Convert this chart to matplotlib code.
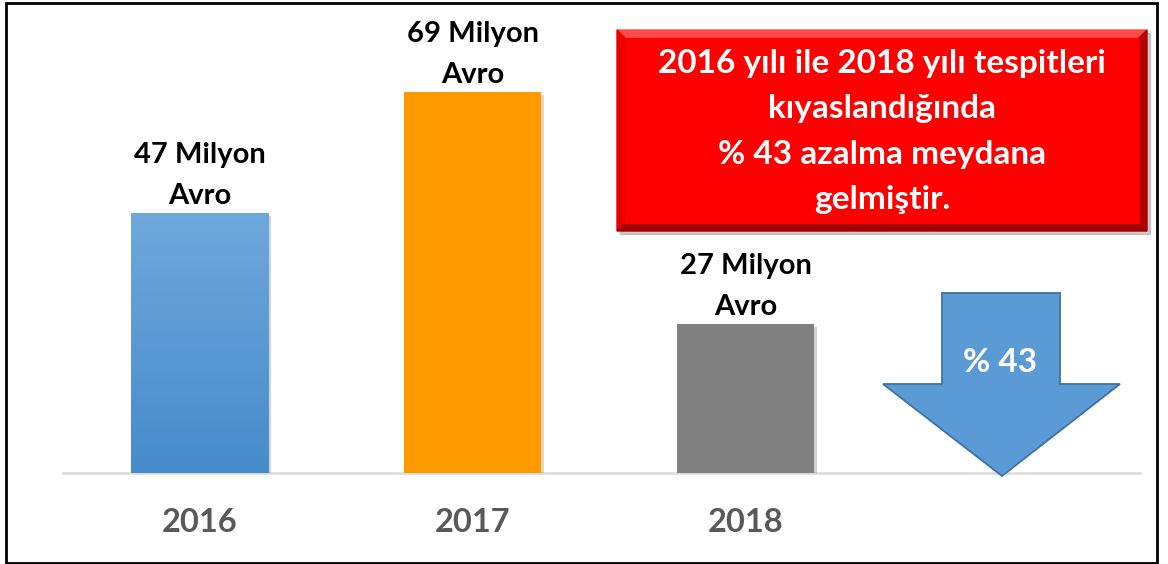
import matplotlib.pyplot as plt
import matplotlib.patheffects as pe
from matplotlib.patches import Rectangle, Polygon
from matplotlib.colors import LinearSegmentedColormap
import numpy as np

# data
years = ['2016', '2017', '2018']
values = [47, 69, 27]
bar_colors = ['#5B9BD5', '#FF9900', '#808080']
unit = 'Milyon\nAvro'
box_text = '2016 yılı ile 2018 yılı tespitleri\nkıyaslandığında\n% 43 azalma meydana\ngelmiştir.'
arrow_text = '% 43'

W, H = 1168, 564
plt.rcParams['font.family'] = ['Lato', 'DejaVu Sans']

fig = plt.figure(figsize=(W / 100, H / 100), dpi=100)


def fx(x):
    return x / W


def fy(y):
    return 1 - y / H


# axes placed in pixel terms
ax = fig.add_axes([fx(63), fy(473), (1140 - 63) / W, (473 - 31) / H])

shadow = [pe.SimplePatchShadow(offset=(2, -2), alpha=0.25, rho=0.6), pe.Normal()]
bars = ax.bar(range(len(years)), values, width=0.505, color=bar_colors, zorder=3)
for b in bars:
    b.set_path_effects(shadow)

# gradient on the 2016 bar
b0 = bars[0]
cmap = LinearSegmentedColormap.from_list('blu', ['#468BCB', '#6FA8DC'])
grad = np.linspace(0, 1, 256).reshape(-1, 1)
im = ax.imshow(grad, cmap=cmap, origin='lower', aspect='auto', zorder=4,
               extent=[b0.get_x(), b0.get_x() + b0.get_width(), 0, b0.get_height()])
im.set_clip_path(b0)
ax.set_xlim(-0.5, 3.445)
ax.set_ylim(0, 80)

for b, v in zip(bars, values):
    ax.annotate(f'{v} {unit}', (b.get_x() + b.get_width() / 2, v),
                xytext=(0, 3), textcoords='offset points', ha='center', va='bottom',
                fontsize=21, fontweight='bold', color='black', linespacing=1.7, zorder=6)

ax.set_xticks(range(len(years)))
ax.set_xticklabels(years, fontsize=23.5, fontweight='bold', color='#595959')
ax.tick_params(axis='x', length=0, pad=25)
ax.set_yticks([])
for s in ['top', 'right', 'left']:
    ax.spines[s].set_visible(False)
ax.spines['bottom'].set_color('#D9D9D9')
ax.spines['bottom'].set_linewidth(1.8)
ax.patch.set_alpha(0)

# red box with bevel
x0, y0, x1, y1 = 617, 30, 1147, 231
bv = 8
fig.patches.append(Rectangle((fx(x0 + 3), fy(y1 + 3)), (x1 - x0) / W, (y1 - y0) / H,
                             transform=fig.transFigure, color='#999999', alpha=0.5, zorder=1))


def poly(pts, c):
    fig.patches.append(Polygon([(fx(a), fy(b)) for a, b in pts], closed=True,
                               transform=fig.transFigure, color=c, zorder=2))


poly([(x0, y0), (x1, y0), (x1 - bv, y0 + bv), (x0 + bv, y0 + bv)], '#FF4A4A')
poly([(x0, y0), (x0 + bv, y0 + bv), (x0 + bv, y1 - bv), (x0, y1)], '#E80000')
poly([(x1, y0), (x1, y1), (x1 - bv, y1 - bv), (x1 - bv, y0 + bv)], '#B00000')
poly([(x0, y1), (x0 + bv, y1 - bv), (x1 - bv, y1 - bv), (x1, y1)], '#A00000')
poly([(x0 + bv, y0 + bv), (x1 - bv, y0 + bv), (x1 - bv, y1 - bv), (x0 + bv, y1 - bv)], '#FF0000')
fig.text(fx((x0 + x1) / 2), fy((y0 + y1) / 2 + 1), box_text, ha='center', va='center',
         fontsize=24, fontweight='bold', color='white', linespacing=1.67, zorder=3)

# down arrow
arrow_pts = [(942, 293), (1060, 293), (1060, 384), (1120, 384), (1002, 476),
             (883, 384), (942, 384)]
fig.patches.append(Polygon([(fx(a), fy(b)) for a, b in arrow_pts], closed=True,
                           transform=fig.transFigure, facecolor='#5B9BD5',
                           edgecolor='#41719C', linewidth=1.3, zorder=2))
fig.text(fx(1000), fy(362), arrow_text, ha='center', va='center', fontsize=24,
         fontweight='bold', color='white', zorder=3)

# outer frame
fig.patches.append(Rectangle((fx(6), fy(563)), (1157 - 6) / W, (563 - 3) / H,
                             transform=fig.transFigure, fill=False, edgecolor='black',
                             linewidth=2, zorder=5))

fig.savefig('out.png', dpi=100)
